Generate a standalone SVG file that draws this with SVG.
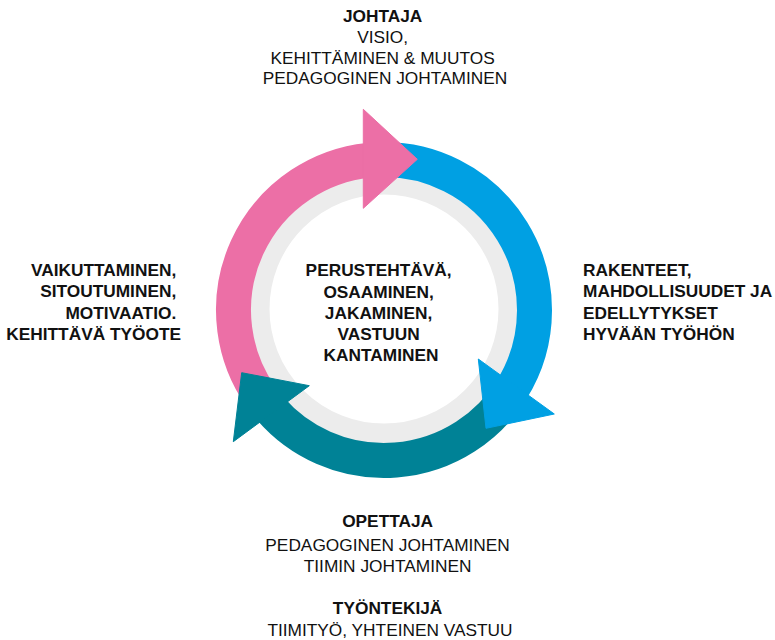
<svg xmlns="http://www.w3.org/2000/svg" width="775" height="640" viewBox="0 0 775 640">
  <style>
    .t { font-family: "Liberation Sans", Arial, sans-serif; font-size: 17.3px; fill: #111111; }
    .b { font-weight: bold; }
    .band { fill: none; stroke-width: 35; stroke-linecap: butt; }
    .pink { fill: #EC6FA6; stroke: #EC6FA6; }
    .blue { fill: #00A0E3; stroke: #00A0E3; }
    .teal { fill: #008296; stroke: #008296; }
  </style>

  <rect width="775" height="640" fill="#ffffff"/>

  <!-- light inner ring -->
  <g id="ring">
    <circle cx="384" cy="309" r="125" fill="none" stroke="#ECECEC" stroke-width="21"/>
  </g>

  <!-- cycle connectors: arc bands first, heads on top -->
  <g id="connectors">
    <path class="band pink" style="fill:none" d="M260.72,396.32 A150.5,150.5 0 0 1 368.27,160.32"/>
    <path class="band blue" style="fill:none" d="M370.88,160.07 A150.5,150.5 0 0 1 511.63,389.75"/>
    <path class="band teal" style="fill:none" d="M511.63,389.75 A150.5,150.5 0 0 1 270.42,408.74"/>
    <polygon class="pink" stroke="none" points="363.3,109.3 417.3,159.3 363.3,208.3"/>
    <polygon class="blue" stroke="none" points="478.3,359 554.3,414 486,428.3"/>
    <polygon class="teal" stroke="none" points="309.3,385.7 233.3,441.7 241.7,372.7"/>
  </g>

  <g id="node-johtaja">
    <text class="t" text-anchor="middle">
      <tspan class="b" x="385" y="22">JOHTAJA</tspan>
      <tspan x="385" y="43">VISIO,</tspan>
      <tspan x="385" y="63.5">KEHITTÄMINEN &amp; MUUTOS</tspan>
      <tspan x="385" y="84">PEDAGOGINEN JOHTAMINEN</tspan>
    </text>
  </g>

  <g id="node-rakenteet">
    <text class="t b" text-anchor="start">
      <tspan x="583" y="276">RAKENTEET,</tspan>
      <tspan x="583" y="297">MAHDOLLISUUDET JA</tspan>
      <tspan x="583" y="318.5">EDELLYTYKSET</tspan>
      <tspan x="583" y="340">HYVÄÄN TYÖHÖN</tspan>
    </text>
  </g>

  <g id="node-vaikuttaminen">
    <text class="t b" text-anchor="end">
      <tspan x="181" y="276">VAIKUTTAMINEN,</tspan>
      <tspan x="181" y="297">SITOUTUMINEN,</tspan>
      <tspan x="181" y="318.5">MOTIVAATIO.</tspan>
      <tspan x="181" y="340">KEHITTÄVÄ TYÖOTE</tspan>
    </text>
  </g>

  <g id="node-center">
    <text class="t b" text-anchor="middle">
      <tspan x="381" y="276">PERUSTEHTÄVÄ,</tspan>
      <tspan x="381" y="297.5">OSAAMINEN,</tspan>
      <tspan x="381" y="319">JAKAMINEN,</tspan>
      <tspan x="381" y="340">VASTUUN</tspan>
      <tspan x="381" y="361">KANTAMINEN</tspan>
    </text>
  </g>

  <g id="node-opettaja">
    <text class="t" text-anchor="middle">
      <tspan class="b" x="390" y="527">OPETTAJA</tspan>
      <tspan x="390" y="551">PEDAGOGINEN JOHTAMINEN</tspan>
      <tspan x="390" y="572">TIIMIN JOHTAMINEN</tspan>
      <tspan class="b" x="390" y="614">TYÖNTEKIJÄ</tspan>
      <tspan x="390" y="636">TIIMITYÖ, YHTEINEN VASTUU</tspan>
    </text>
  </g>
</svg>
